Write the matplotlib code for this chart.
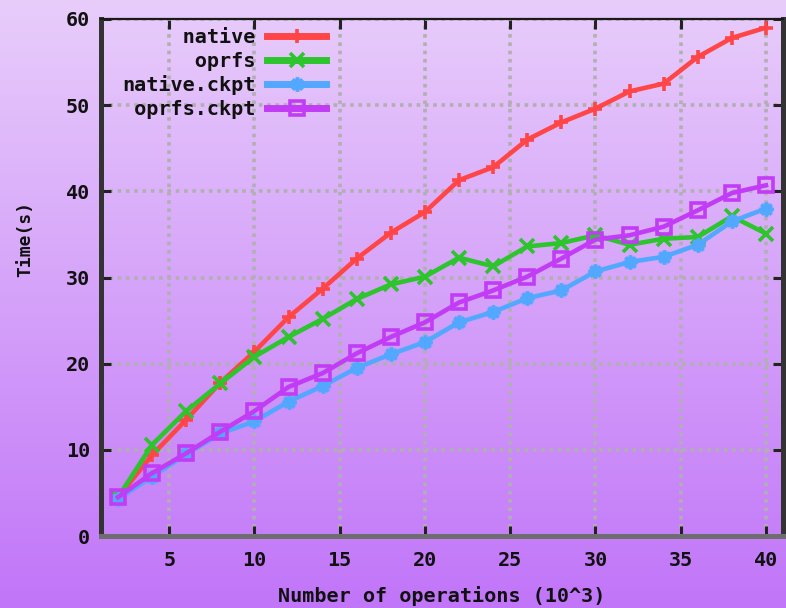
import numpy as np
import matplotlib
matplotlib.use("Agg")
import matplotlib.pyplot as plt
from matplotlib.colors import LinearSegmentedColormap

ops = [2, 4, 6, 8, 10, 12, 14, 16, 18, 20, 22, 24, 26, 28, 30, 32, 34, 36, 38, 40]
native = [4.5, 9.4, 13.5, 17.8, 21.4, 25.4, 28.7, 32.2, 35.2, 37.6, 41.3, 42.8,
          46.0, 48.0, 49.6, 51.6, 52.5, 55.6, 57.8, 59.0]
oprfs = [4.5, 10.6, 14.5, 17.7, 20.8, 23.1, 25.2, 27.5, 29.2, 30.1, 32.3, 31.3,
         33.6, 34.0, 34.9, 33.8, 34.5, 34.7, 37.1, 35.1]
native_ckpt = [4.3, 6.9, 9.5, 11.9, 13.3, 15.6, 17.4, 19.5, 21.1, 22.5, 24.8, 26.0,
               27.6, 28.5, 30.7, 31.8, 32.4, 33.8, 36.5, 38.0]
oprfs_ckpt = [4.5, 7.3, 9.6, 12.1, 14.5, 17.3, 18.9, 21.2, 23.1, 24.8, 27.1, 28.5,
              30.1, 32.2, 34.4, 34.9, 35.9, 37.8, 39.8, 40.7]
series_names = ["native", "oprfs", "native.ckpt", "oprfs.ckpt"]
x_ticks = [5, 10, 15, 20, 25, 30, 35, 40]
y_ticks = [0, 10, 20, 30, 40, 50, 60]
xlabel = "Number of operations (10^3)"
ylabel = "Time(s)"

colors = ["#ff4545", "#2ec42e", "#52a8ff", "#c23cf6"]
markers = ["+", "x", (8, 2, 0), "s"]
mfc = ["#ff2020", "#40d040", "#2090ff", "none"]

mono = "DejaVu Sans Mono"
fs = 14.5

fig = plt.figure(figsize=(7.86, 6.08), dpi=100)

# gradient background
bg = fig.add_axes([0, 0, 1, 1], zorder=-10)
cmap = LinearSegmentedColormap.from_list("bgp", ["#e8cdfb", "#c175f8"])
grad = np.linspace(0, 1, 256).reshape(-1, 1)
bg.imshow(grad, aspect="auto", cmap=cmap, extent=[0, 1, 0, 1], origin="upper")
bg.set_axis_off()

ax = fig.add_axes([101 / 786, 1 - 536 / 608, 682 / 786, 517 / 608])
ax.set_facecolor("none")

data = [native, oprfs, native_ckpt, oprfs_ckpt]
for vals, name, c, m, fc in zip(data, series_names, colors, markers, mfc):
    lbl = name.rjust(11)
    ax.plot(ops, vals, color=c, lw=3.3, marker=m, markersize=10,
            markeredgewidth=2.6, markerfacecolor=fc,
            markeredgecolor=c, label=lbl, solid_joinstyle="round")

ax.set_xlim(1, 41)
ax.set_ylim(0, 60)
ax.set_xticks(x_ticks)
ax.set_yticks(y_ticks)
ax.set_xticklabels([str(t) for t in x_ticks])
ax.set_yticklabels([str(t) for t in y_ticks])

ax.grid(True, color="#b0b0b0", linestyle=(0, (1.0, 1.3)), lw=2.6)
ax.set_axisbelow(True)

ax.tick_params(direction="in", length=7, width=2.2, color="#222222",
               top=True, right=True, labelsize=fs)
ax.tick_params(axis="x", pad=11)
ax.tick_params(axis="y", pad=8)
for t in ax.get_xticklabels() + ax.get_yticklabels():
    t.set_fontfamily(mono)
    t.set_fontweight("bold")
    t.set_color("#111111")

for side, lw, col in [("left", 3.6, "#333333"), ("bottom", 3.6, "#6e6e6e"),
                      ("top", 1.6, "#1a1a1a"), ("right", 3.6, "#333333")]:
    ax.spines[side].set_linewidth(lw)
    ax.spines[side].set_color(col)

ax.set_xlabel(xlabel, fontfamily=mono, fontweight="bold", fontsize=fs, color="#111111")
ax.set_ylabel(ylabel, fontfamily=mono, fontweight="bold", fontsize=13, color="#111111")
ax.xaxis.set_label_coords(0.5, -0.116)
ax.xaxis.label.set_va("center")
ax.yaxis.set_label_coords(-0.111, 0.574)
ax.yaxis.label.set_va("center")
ax.yaxis.label.set_ha("center")

leg = ax.legend(loc="upper left", bbox_to_anchor=(0.0308, 0.982), frameon=False,
                markerfirst=False, borderpad=0, borderaxespad=0, labelspacing=0.22,
                handlelength=2.9, handletextpad=0.6,
                prop={"family": mono, "weight": "bold", "size": fs})
for h in leg.legend_handles:
    h.set_linewidth(5)
for t in leg.get_texts():
    t.set_color("#111111")

fig.savefig("out.png", dpi=100)
